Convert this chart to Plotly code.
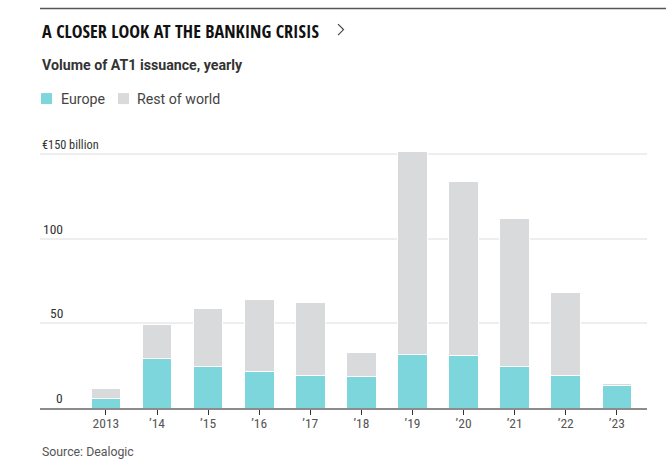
import plotly.graph_objects as go

# ---- data ----
years = ["2013", "’14", "’15", "’16", "’17", "’18", "’19", "’20", "’21", "’22", "’23"]
europe = [5.6, 29.4, 24.6, 21.5, 19.1, 18.5, 31.5, 31.0, 24.4, 19.1, 13.1]
rest_of_world = [5.8, 19.9, 34.2, 42.5, 43.0, 14.0, 120.0, 102.7, 87.4, 48.9, 1.1]
y_ticks = [0, 50, 100, 150]
y_tick_labels = ["0", "50", "100", "€150 billion"]

W, H = 666, 467
L, R, T, B = 40, 19, 137.4, 58.7
PW, PH = W - L - R, H - T - B

def px(x):
    return (x - L) / PW

def py(y):
    return (H - B - y) / PH

EU_COL = "#7cd6dc"
ROW_COL = "#d9dadc"
TITLE_FONT = "Open Sans Condensed, Roboto Condensed, sans-serif"
NARROW = "Roboto Condensed, DejaVu Sans Condensed, sans-serif"
BODY = "Roboto, Lato, sans-serif"

fig = go.Figure()
fig.add_trace(go.Bar(x=years, y=europe, name="Europe", hoverinfo="skip",
                     marker=dict(color=EU_COL, line=dict(color="white", width=1))))
fig.add_trace(go.Bar(x=years, y=rest_of_world, name="Rest of world", hoverinfo="skip",
                     marker=dict(color=ROW_COL, line=dict(color="white", width=1))))

fig.update_layout(
    width=W, height=H,
    margin=dict(l=L, r=R, t=T, b=B),
    barmode="stack", bargap=0.42,
    plot_bgcolor="white", paper_bgcolor="white",
    showlegend=False,
    xaxis=dict(
        type="category", range=[-1.29, 10.59],
        showline=True, linecolor="#8c8c8c", linewidth=2,
        ticks="outside", ticklen=5, tickcolor="#333", tickwidth=1,
        ticklabelstandoff=-3,
        tickfont=dict(family=NARROW, size=13.5, color="#555"),
        showgrid=False, fixedrange=True,
    ),
    yaxis=dict(
        range=[0, 160], tickvals=y_ticks, showticklabels=False,
        showgrid=True, gridcolor="#eeeeee", gridwidth=2,
        zeroline=False, fixedrange=True,
    ),
)

# y tick labels sitting above the gridlines
for v, lab in zip(y_ticks, y_tick_labels):
    if v == 150:
        fig.add_annotation(x=px(40), y=v, xref="paper", yref="y", text=lab, showarrow=False,
                           xanchor="left", yanchor="bottom", yshift=0,
                           font=dict(family=NARROW, size=12.3, color="#333"))
    else:
        fig.add_annotation(x=px(65), y=v, xref="paper", yref="y", text=lab, showarrow=False,
                           xanchor="right", yanchor="bottom", yshift=0,
                           font=dict(family=NARROW, size=13.5, color="#333"))

# top rule
fig.add_shape(type="line", xref="paper", yref="paper", x0=px(40), x1=px(666), y0=py(9), y1=py(9),
              line=dict(color="#555", width=1.5))

# title, chevron icon, subtitle
fig.add_annotation(x=px(40), y=py(31), xref="paper", yref="paper", text="<b>A CLOSER LOOK AT THE BANKING CRISIS</b>",
                   showarrow=False, xanchor="left", yanchor="middle",
                   font=dict(family=TITLE_FONT, size=18.1, color="#111"))
fig.add_shape(type="path", xref="paper", yref="paper",
              path=f"M {px(338)},{py(24.5)} L {px(343.5)},{py(30)} L {px(338)},{py(35.5)}",
              line=dict(color="#444", width=1.2))
fig.add_annotation(x=px(40), y=py(65), xref="paper", yref="paper", text="<b>Volume of AT1 issuance, yearly</b>",
                   showarrow=False, xanchor="left", yanchor="middle",
                   font=dict(family=BODY, size=14.2, color="#333"))

# legend
for (x0, x1, col, tx, lab) in [(41, 52, EU_COL, 58.5, "Europe"), (118, 129, ROW_COL, 134.5, "Rest of world")]:
    fig.add_shape(type="rect", xref="paper", yref="paper", x0=px(x0), x1=px(x1), y0=py(104.5), y1=py(93.5),
                  fillcolor=col, line=dict(width=0))
    fig.add_annotation(x=px(tx), y=py(99), xref="paper", yref="paper", text=lab, showarrow=False,
                       xanchor="left", yanchor="middle", font=dict(family=BODY, size=14.2, color="#444"))

# source
fig.add_annotation(x=px(40), y=py(452), xref="paper", yref="paper", text="Source: Dealogic", showarrow=False,
                   xanchor="left", yanchor="middle", font=dict(family=BODY, size=12.3, color="#555"))

fig.write_html("out.html", config={"displayModeBar": False, "staticPlot": True},
               post_script="document.body.style.margin='0';")
